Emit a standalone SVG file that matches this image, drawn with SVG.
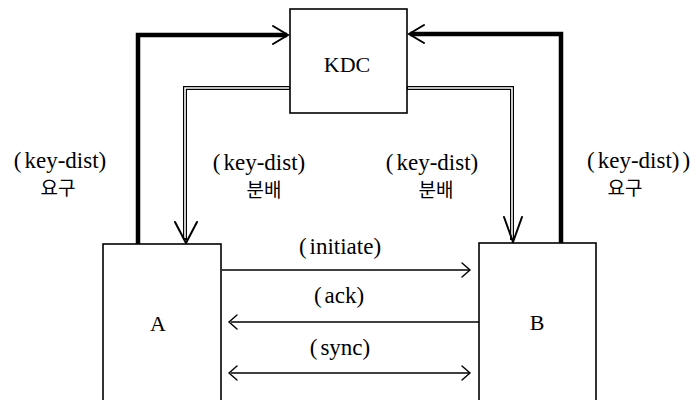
<svg xmlns="http://www.w3.org/2000/svg" width="693" height="400" viewBox="0 0 693 400">
  <style>
    .box { fill: #fff; stroke: #000; stroke-width: 1.6; }
    .name { font-family: "Liberation Serif", serif; font-size: 22px; text-anchor: middle; fill: #000; }
    .lbl { font-family: "Liberation Serif", serif; font-size: 23px; text-anchor: middle; fill: #000; }
    .ko { font-family: "Noto Sans CJK KR", sans-serif; font-size: 19px; text-anchor: middle; fill: #000; }
    .thick { fill: none; stroke: #000; stroke-width: 4.5; stroke-linejoin: miter; }
    .dbl-out { fill: none; stroke: #000; stroke-width: 4; }
    .dbl-in { fill: none; stroke: #fff; stroke-width: 1.6; }
    .thin { fill: none; stroke: #000; stroke-width: 1.3; }
    .head { fill: none; stroke: #000; stroke-width: 2; stroke-linecap: round; stroke-linejoin: miter; }
    .headsm { fill: none; stroke: #000; stroke-width: 1.4; stroke-linecap: round; }
  </style>
  <rect width="693" height="400" fill="#fff"/>

  <g id="connectors">
    <!-- A requests key from KDC -->
    <path class="thick" d="M138,244 V35 H287"/>
    <path class="head" d="M273,26 L288,35 L273,44"/>
    <!-- B requests key from KDC -->
    <path class="thick" d="M561,244 V34 H410"/>
    <path class="head" d="M424,25 L409,34 L424,43"/>
    <!-- KDC distributes key to A -->
    <path class="dbl-out" d="M291,88 H185 V240"/>
    <path class="dbl-in" d="M289,88 H185 V238"/>
    <path class="head" d="M175,222 L186,243 L197,222"/>
    <!-- KDC distributes key to B -->
    <path class="dbl-out" d="M406,88 H512 V240"/>
    <path class="dbl-in" d="M408,88 H512 V238"/>
    <path class="head" d="M504,217 L513,242 L522,217"/>
    <!-- initiate: A to B -->
    <path class="thin" d="M222,270 H469"/>
    <path class="headsm" d="M462,263 L470,270 L462,277"/>
    <!-- ack: B to A -->
    <path class="thin" d="M479,322 H231"/>
    <path class="headsm" d="M237,315 L229,322 L237,329"/>
    <!-- sync: both ways -->
    <path class="thin" d="M231,373 H469"/>
    <path class="headsm" d="M237,366 L229,373 L237,380"/>
    <path class="headsm" d="M462,366 L470,373 L462,380"/>
  </g>

  <g id="kdc">
    <rect class="box" x="290" y="9" width="117" height="104"/>
    <text class="name" x="347" y="72">KDC</text>
  </g>
  <g id="node-a">
    <rect class="box" x="103" y="244" width="118" height="170"/>
    <text class="name" x="158" y="331">A</text>
  </g>
  <g id="node-b">
    <rect class="box" x="479" y="243" width="117" height="170"/>
    <text class="name" x="537" y="330">B</text>
  </g>

  <g id="labels">
    <text class="lbl" x="60" y="168">(<tspan dx="3">key-dist)</tspan></text>
    <text class="ko" x="58" y="195">요구</text>
    <text class="lbl" x="259" y="170">(<tspan dx="3">key-dist)</tspan></text>
    <text class="ko" x="264" y="197">분배</text>
    <text class="lbl" x="432" y="170">(<tspan dx="3">key-dist)</tspan></text>
    <text class="ko" x="436" y="197">분배</text>
    <text class="lbl" x="587" y="168" style="text-anchor:start">(<tspan dx="3">key-dist)</tspan><tspan dx="3">)</tspan></text>
    <text class="ko" x="625" y="195">요구</text>
    <text class="lbl" x="340" y="254">(<tspan dx="3">initiate)</tspan></text>
    <text class="lbl" x="339" y="303">(<tspan dx="3">ack)</tspan></text>
    <text class="lbl" x="340" y="355">(<tspan dx="3">sync)</tspan></text>
  </g>
</svg>
